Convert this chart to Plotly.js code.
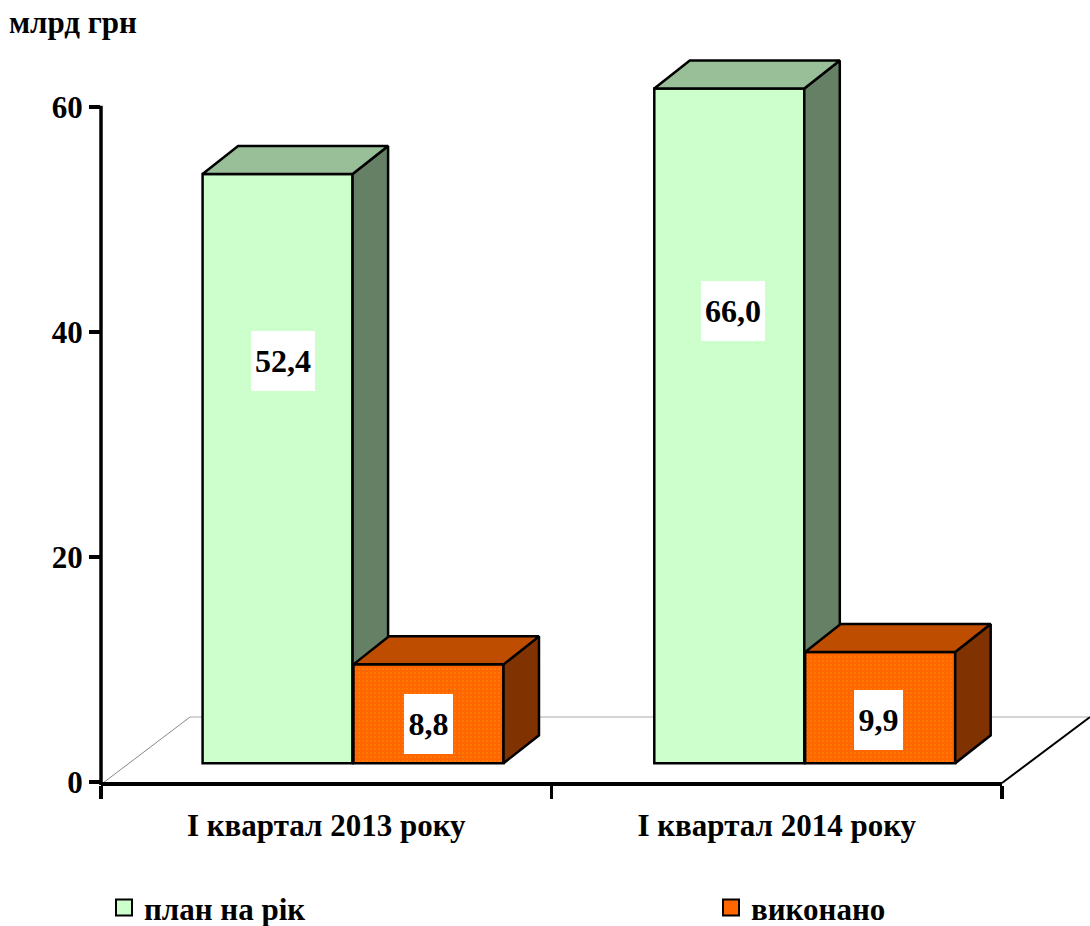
<!DOCTYPE html>
<html>
<head>
<meta charset="utf-8">
<script src="https://cdn.plot.ly/plotly-3.0.1.min.js"></script>
<style>html,body{margin:0;padding:0;background:#fff}#chart{width:1090px;height:926px}</style>
</head>
<body>
<div id="chart"></div>
<script>
// ---- data ----
var categories = ['I квартал 2013 року', 'I квартал 2014 року'];
var planValues = [52.4, 66.0];
var doneValues = [8.8, 9.9];
var planName = 'план на рік';
var doneName = 'виконано';
var yTicks = [0, 20, 40, 60];
var unitTitle = 'млрд грн';

// ---- label anchor heights on the value axis (moved by hand in the original) ----
var planLabelY = [37.41, 41.87];
var doneLabelY = [5.2, 5.55];

// ---- geometry ----
var W = 1090, H = 926;
var L = 101, R = 1002, B = 782;
var pxPerY = 11.25;
var yMax = 60;          // the axis stops here and taller bars are cut at this height
var yRoom = 65;         // extra plot room above the axis for the 3-D depth
var T = B - yRoom * pxPerY;
var pxPerX = (R - L) / 2;
var lift = 1.66;                    // front plane raised above the axis floor
var depthX = 35.5 / pxPerX, depthY = 28 / pxPerY;
var barW = 150 / pxPerX;
var groupNudge = [0, 1.2 / pxPerX];
var planOffset = -0.2745, doneOffset = planOffset + barW + 0.002;
var FONT = '"Liberation Serif", "Times New Roman", serif';
var fs = 31;
var edge = 2.5;
var C = {plan:'#CCFFCC', planTop:'#99BF99', planSide:'#668066',
         done:'#FF6600', doneTop:'#BF4D00', doneSide:'#803300'};

function clipVal(v){ return Math.min(v, yMax); }
var xPos = categories.map(function(_, i){ return i + groupNudge[i]; });

function faces(values, offset, topColor, sideColor, xa){
  var out = [];
  values.forEach(function(v, i){
    var x0 = xPos[i] + offset, x1 = x0 + barW;
    var yb = lift, yt = lift + clipVal(v);
    out.push({type:'scatter', mode:'lines', xaxis:xa, yaxis:'y', showlegend:false, hoverinfo:'skip',
      x:[x1, x1+depthX, x1+depthX, x1, x1], y:[yb, yb+depthY, yt+depthY, yt, yb],
      fill:'toself', fillcolor:sideColor, line:{color:'#000', width:edge}});
    out.push({type:'scatter', mode:'lines', xaxis:xa, yaxis:'y', showlegend:false, hoverinfo:'skip',
      x:[x0, x0+depthX, x1+depthX, x1, x0], y:[yt, yt+depthY, yt+depthY, yt, yt],
      fill:'toself', fillcolor:topColor, line:{color:'#000', width:edge}});
  });
  return out;
}
function bars(values, offset, color, xa, pattern){
  var t = {type:'bar', xaxis:xa, yaxis:'y', x:categories, y:values.map(clipVal),
    base:values.map(function(){ return lift; }),
    offset:groupNudge.map(function(n){ return offset + n; }), width:barW, showlegend:false, hoverinfo:'skip',
    marker:{color:color, line:{color:'#000', width:edge}}};
  if(pattern) t.marker.pattern = pattern;
  return t;
}
var dots = {shape:'.', size:4, solidity:0.2, fgcolor:'#FF7F00', bgcolor:C.done, fillmode:'replace'};

var traces = [].concat(
  [bars(planValues, planOffset, C.plan, 'x')],
  faces(planValues, planOffset, C.planTop, C.planSide, 'x2'),
  [bars(doneValues, doneOffset, C.done, 'x3', dots)],
  faces(doneValues, doneOffset, C.doneTop, C.doneSide, 'x4'),
  [
    {type:'scatter', mode:'markers', x:[null], y:[null], xaxis:'x2', yaxis:'y', name:planName, hoverinfo:'skip', legend:'legend',
     marker:{symbol:'square', size:17, color:C.plan, line:{color:'#000', width:2}}},
    {type:'scatter', mode:'markers', x:[null], y:[null], xaxis:'x2', yaxis:'y', name:doneName, hoverinfo:'skip', legend:'legend2',
     marker:{symbol:'square', size:17, color:C.done, line:{color:'#000', width:2}}}
  ]
);

function label(v, i, offset, yPos, dx, w){
  return {xref:'x4', yref:'y', x:xPos[i] + offset + barW/2 + dx/pxPerX, y:yPos,
    text:v.toFixed(1).replace('.', ','), showarrow:false, bgcolor:'#fff', width:w, height:60,
    borderpad:0, borderwidth:0, xanchor:'center', yanchor:'middle', valign:'middle',
    font:{family:FONT, size:32, color:'#000', weight:'bold'}};
}
var annotations = [];
planValues.forEach(function(v,i){ annotations.push(label(v, i, planOffset, planLabelY[i], i===0?5:4, 64)); });
doneValues.forEach(function(v,i){ annotations.push(label(v, i, doneOffset, doneLabelY[i], i===0?0:-2, 49)); });

function px(x){ return (x - L) / (R - L); }
function py(y){ return (B - y) / (B - T); }
var floorBack = 717, floorDX = 86;
function seg(x0,y0,x1,y1,color,width,layer){
  return {type:'line', xref:'paper', yref:'paper', layer:layer||'below',
    x0:px(x0), y0:py(y0), x1:px(x1), y1:py(y1), line:{color:color, width:width}};
}
var shapes = [
  seg(L+2, 783, L+floorDX+3, floorBack, '#888', 1),
  seg(L+floorDX+3, floorBack, R+floorDX, floorBack, '#aaa', 1),
  seg(R, 783, R+floorDX+2, floorBack, '#000', 2),
  seg(L, 785, L, B - yMax*pxPerY - 1.5, '#000', 3.5, 'above')   // value axis line stops at 60
];

function legendAt(xPx){
  return {orientation:'h', x:px(xPx), xanchor:'left', y:py(908), yanchor:'middle',
    itemclick:false, itemdoubleclick:false,
    bgcolor:'rgba(0,0,0,0)', font:{family:FONT, size:fs, color:'#000', weight:'bold'}};
}
var layout = {
  width:W, height:H, autosize:false, showlegend:true,
  paper_bgcolor:'#fff', plot_bgcolor:'rgba(0,0,0,0)',
  margin:{l:L, r:W-R, t:T, b:H-B, pad:0, autoexpand:false},
  font:{family:FONT, size:fs, color:'#000', weight:'bold'},
  title:{text:unitTitle, x:9/W, xanchor:'left', xref:'container', y:1-22/H, yanchor:'middle', yref:'container',
         font:{family:FONT, size:fs, color:'#000', weight:'bold'}},
  barmode:'overlay',
  xaxis:{type:'category', categoryorder:'array', categoryarray:categories, range:[-0.5,1.5],
    tickson:'boundaries', ticks:'outside', ticklen:13, tickwidth:3.5, tickcolor:'#000',
    showline:true, linecolor:'#000', linewidth:3.5, showgrid:false, zeroline:false, fixedrange:true,
    ticklabelstandoff:13, tickfont:{family:FONT, size:fs, color:'#000', weight:'bold'}},
  xaxis2:{type:'linear', overlaying:'x', range:[-0.5, 1.5], visible:false, anchor:'y', fixedrange:true},
  xaxis3:{type:'category', categoryorder:'array', categoryarray:categories, overlaying:'x', range:[-0.5,1.5], visible:false, anchor:'y', fixedrange:true},
  xaxis4:{type:'linear', overlaying:'x', range:[-0.5, 1.5], visible:false, anchor:'y', fixedrange:true},
  yaxis:{range:[0,yRoom], tickmode:'array', tickvals:yTicks, ticks:'outside', ticklen:11, tickwidth:3.5, tickcolor:'#000',
    showline:false, showgrid:false, zeroline:false, fixedrange:true,
    ticklabelstandoff:0, tickfont:{family:FONT, size:fs, color:'#000', weight:'bold'}},
  legend:legendAt(104),
  legend2:legendAt(711),
  shapes:shapes,
  annotations:annotations
};
Plotly.newPlot('chart', traces, layout, {staticPlot:true, displayModeBar:false});
</script>
</body>
</html>
